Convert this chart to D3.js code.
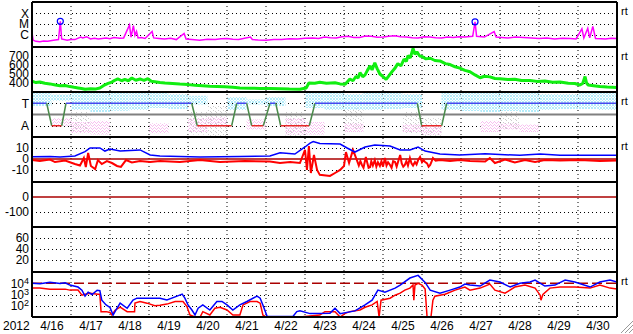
<!DOCTYPE html>
<html>
<head>
<meta charset="utf-8">
<script src="https://cdn.jsdelivr.net/npm/d3@7"></script>
<style>
  body { margin: 0; background: #fff; }
  text { font-family: "Liberation Sans", Arial, sans-serif; fill: #000; }
</style>
</head>
<body>
<svg id="chart" width="633" height="334"></svg>
<script>
// ---- data (t = days since 2012-04-16 00:00) ----
const yearLabel = "2012";

const xray = [[0,1.6e-6],[0.03,3e-7],[0.1,2.4e-7],[0.2,2.2e-7],[0.3,2.6e-7],[0.4,2.5e-7],[0.55,3e-7],[0.68,3.5e-7],
  [0.726,1.8e-5],[0.76,4e-7],[0.9,3e-7],[1.0,3.6e-7],[1.1,3.5e-7],[1.25,6e-7],[1.3,5e-7],[1.4,6.5e-7],[1.5,4e-7],
  [1.6,4.6e-7],[1.7,4e-7],[1.9,5e-7],[2.0,4.2e-7],[2.1,5.5e-7],[2.25,4.6e-7],[2.35,5e-7],
  [2.5,8e-6],[2.54,6e-7],[2.6,7e-6],[2.64,9e-7],[2.68,2e-6],[2.72,5e-7],[2.8,5.5e-7],[2.9,4.5e-7],[3.08,2e-6],
  [3.12,5e-7],[3.25,4.5e-7],[3.4,4e-7],[3.55,4.6e-7],[3.7,3.5e-7],[3.9,1.3e-6],[3.95,4e-7],[4.1,3.6e-7],
  [4.3,3e-7],[4.5,3.8e-7],[4.7,3.5e-7],[4.85,4.2e-7],[5.0,4.5e-7],[5.15,3.8e-7],[5.3,3.5e-7],[5.6,6e-7],
  [5.65,3.5e-7],[5.8,3.2e-7],[6.0,3e-7],[6.2,3.6e-7],[6.4,3.5e-7],[6.6,4.2e-7],[6.8,4e-7],[7.0,4.6e-7],
  [7.2,5e-7],[7.35,4.4e-7],[7.5,6e-7],[7.65,5.2e-7],[7.8,5e-7],[7.95,6.5e-7],[8.1,7e-7],[8.25,5.5e-7],
  [8.4,5.5e-7],[8.55,7.5e-7],[8.7,7e-7],[8.85,5.8e-7],[9.0,6e-7],[9.15,7.2e-7],[9.3,8e-7],[9.45,6.5e-7],
  [9.6,6e-7],[9.75,5.2e-7],[9.9,5e-7],[10.05,6.3e-7],[10.2,6e-7],[10.35,5.3e-7],[10.5,5e-7],[10.65,6e-7],
  [10.8,5.5e-7],[10.95,6.4e-7],[11.1,6e-7],[11.3,7e-7],[11.36,1.6e-5],[11.4,7e-7],[11.6,6e-7],[11.85,2e-6],
  [11.9,6e-7],[12.05,5.6e-7],[12.2,5e-7],[12.4,6e-7],[12.6,5.5e-7],[12.8,5e-7],[13.0,4.5e-7],[13.2,4.8e-7],
  [13.4,4e-7],[13.6,4.6e-7],[13.8,4.5e-7],[13.95,4e-7],[14.1,3.5e-6],[14.15,5e-7],[14.25,4e-6],[14.3,5e-7],
  [14.38,6e-6],[14.45,4.5e-7],[14.6,4.2e-7],[14.7,4e-7],[14.85,4.6e-7],[15,4.5e-7]];
const flares = [[0.726,1.8e-5],[11.36,1.6e-5]];
const xrayTicks = [1e-4, 1e-5, 1e-6];
const xrayLabels = ["X", "M", "C"];

const windSpeed = [[0,420],[0.1,405],[0.2,412],[0.33,398],[0.46,390],[0.6,378],[0.72,370],[0.85,372],[0.97,360],
  [1.08,352],[1.18,345],[1.27,338],[1.36,330],[1.5,336],[1.62,332],[1.74,345],[1.87,380],[1.95,395],[2.05,410],
  [2.12,430],[2.2,445],[2.3,425],[2.38,440],[2.47,425],[2.56,455],[2.66,430],[2.77,445],[2.87,430],[2.97,448],
  [3.06,420],[3.15,415],[3.28,405],[3.41,400],[3.6,395],[3.79,388],[4.0,382],[4.18,375],[4.37,370],[4.56,365],
  [4.75,362],[4.95,358],[5.15,352],[5.33,345],[5.6,342],[5.85,340],[6.1,338],[6.36,335],[6.6,332],[6.87,330],
  [7.03,345],[7.1,400],[7.25,398],[7.38,408],[7.55,398],[7.77,402],[7.9,390],[8.03,385],[8.1,420],[8.15,445],
  [8.23,425],[8.31,475],[8.36,455],[8.41,515],[8.48,470],[8.54,490],[8.6,540],[8.67,590],[8.72,545],[8.79,625],
  [8.85,560],[8.92,500],[9.0,470],[9.08,440],[9.15,480],[9.23,525],[9.3,560],[9.38,615],[9.46,590],[9.54,665],
  [9.6,640],[9.64,705],[9.7,680],[9.77,785],[9.82,720],[9.87,745],[9.94,700],[10.0,695],[10.1,668],[10.21,675],
  [10.33,650],[10.46,645],[10.6,615],[10.72,605],[10.85,580],[10.97,565],[11.1,540],[11.23,525],[11.36,490],
  [11.49,458],[11.6,475],[11.74,468],[11.87,450],[12.0,448],[12.2,438],[12.38,442],[12.55,428],[12.77,428],
  [12.95,418],[13.15,422],[13.35,408],[13.54,412],[13.75,398],[13.92,395],[14.05,378],[14.12,395],[14.18,472],
  [14.22,400],[14.26,378],[14.4,370],[14.56,360],[14.75,355],[15,350]];
const windTicks = [700, 600, 500, 400];

const sector = [[0,270],[0.377,270],[0.505,90],[0.762,90],[0.872,270],[4.095,270],[4.238,90],[5.12,90],[5.249,270],
  [5.505,270],[5.633,90],[5.931,90],[6.103,270],[6.249,270],[6.377,90],[7.11,90],[7.256,270],[9.879,270],
  [9.992,90],[10.505,90],[10.633,270],[15,270]];
const sectorTicks = [270, 90];
const sectorLabels = ["T", "A"];
// half-day angle spreads of the hourly IMF angle dots
const cyanHi = [352,340,352,352,352,352,352,344,330,null,320,300,320,null,352,352,344,352,352,344,null,352,352,352,352,352,344,344,352,352];
const cyanLo = [248,290,216,200,210,216,232,224,260,null,216,260,248,null,232,216,216,216,224,232,null,216,208,200,208,200,216,224,224,216];
const pinkHi = [null,150,120,130,null,null,110,null,150,160,null,140,null,150,120,null,110,null,null,100,90,null,null,130,110,100,null,null,null,null];
const pinkLo = [null,90,30,20,null,null,30,null,40,80,null,60,null,20,20,null,40,null,null,40,20,null,null,40,60,40,null,null,null,null];
const greyHi = [null,null,200,null,null,null,null,null,200,250,null,null,null,200,null,null,230,null,null,200,150,null,null,null,200,null,null,null,null,null];
const greyLo = [null,null,40,null,null,null,null,null,20,10,null,null,null,10,null,null,60,null,null,30,10,null,null,null,60,null,null,null,null,null];

const bt = [[0,2.0],[0.46,2.2],[0.72,1.8],[1.1,2.7],[1.36,6.6],[1.49,10],[1.74,10],[1.87,7.2],[2.0,9],[2.26,7.2],
  [2.77,8.2],[3.03,3.6],[3.28,2.7],[4.31,1.8],[5.33,2.2],[6.1,2.7],[6.36,5.7],[6.74,4.5],[7.0,10.9],[7.13,14.5],
  [7.21,15.9],[7.38,14],[7.9,13.6],[8.08,10],[8.28,6.3],[8.54,10.9],[8.79,12.7],[9.18,11.8],[9.44,8.2],[9.69,8.2],
  [9.9,10.9],[10.08,7.2],[10.46,4.5],[10.97,3.6],[11.62,4.8],[12.0,4],[12.51,3.3],[13.03,4.5],[13.54,3.3],[15,3.3]];
const bz = [[0,-1],[0.2,-1.9],[0.46,-0.5],[0.59,-2.8],[0.85,-1.4],[1.1,-4.6],[1.23,-6],[1.33,0.9],[1.38,-7.3],
  [1.44,5.4],[1.51,-6.4],[1.62,-9.2],[1.69,-1],[1.79,-4.6],[1.92,-1.9],[2.05,-3.7],[2.18,-6.4],[2.28,-7.3],
  [2.41,-1],[2.56,-3.2],[2.77,-1.9],[3.03,-2.8],[3.28,-1.9],[3.79,-2.8],[4.31,-1],[4.82,-2.8],[5.46,-1.9],
  [6.1,-2.3],[6.36,-3.7],[6.62,-2.8],[6.87,-3.7],[7.0,8.2],[7.05,-10],[7.1,11.8],[7.15,-12.8],[7.23,3.6],
  [7.31,-10],[7.38,-14.5],[7.64,-15.5],[7.77,-12.8],[7.9,-10],[8.0,-6.4],[8.05,6.3],[8.13,-3.7],[8.23,8.2],
  [8.33,-1],[8.38,-6],[8.42,-2],[8.46,-5.5],[8.5,-8],[8.53,-3],[8.56,1.8],[8.6,-4],[8.63,-8],[8.67,-7.3],
  [8.7,-2],[8.74,-6],[8.79,-1],[8.83,-7],[8.87,-3],[8.92,-6.4],[8.96,-2],[9.0,-7],[9.05,0.9],[9.09,-6],
  [9.13,-3],[9.18,-5.5],[9.22,-8],[9.26,-2],[9.31,-2.8],[9.35,-7],[9.4,-1],[9.44,3.6],[9.48,-4],[9.52,-7],
  [9.56,-5.5],[9.6,-2],[9.64,-6],[9.69,0.9],[9.73,-4],[9.77,-6],[9.82,-2.8],[9.86,-5],[9.9,-1],[9.95,1.8],
  [10.0,-3],[10.04,-1],[10.08,-2.8],[10.13,-4],[10.17,-7],[10.21,-5.5],[10.25,-2],[10.28,0.9],[10.35,-1.5],
  [10.46,-1],[10.72,-1.9],[10.97,-1],[11.23,-1.9],[11.62,-2.3],[11.74,0.9],[11.87,-3.7],[12.13,-0.5],
  [12.38,-3.2],[12.64,-1],[12.9,-2.8],[13.15,-1],[13.54,-1.4],[14.05,-1],[14.56,-1.9],[15,-1.4]];
const imfTicks = [10, 0, -10];

const dstTicks = [0, -100];
const kpTicks = [60, 40, 20];

const fluxBlue = [[0,9800],[0.205,9000],[0.46,12000],[0.72,9500],[0.85,11000],[0.97,6900],[1.18,4600],[1.28,2450],
  [1.36,710],[1.44,1620],[1.54,1000],[1.67,2400],[1.74,2200],[1.79,315],[1.9,118],[2.0,70],[2.08,15],[2.18,60],
  [2.26,170],[2.44,60],[2.59,320],[2.69,470],[2.95,470],[3.28,470],[3.46,320],[3.72,710],[3.85,1070],[3.92,470],
  [4.0,118],[4.1,42],[4.18,15],[4.26,60],[4.38,118],[4.56,42],[4.74,240],[4.87,240],[5.0,118],[5.15,42],
  [5.33,118],[5.51,240],[5.77,710],[5.85,470],[5.92,118],[6.03,11],[6.36,11],[6.69,11],[6.79,30],[6.87,35],
  [7.13,20],[7.64,22],[7.77,60],[7.9,20],[8.28,35],[8.54,118],[8.72,315],[8.87,2450],[9.05,1620],[9.31,3700],
  [9.44,6900],[9.69,29000],[9.9,50000],[10.08,12000],[10.21,2450],[10.46,1320],[10.72,2450],[10.97,4600],
  [11.1,8500],[11.23,6900],[11.49,5600],[11.74,19300],[12.0,12800],[12.26,4600],[12.51,9800],[12.77,12800],
  [12.9,19300],[13.15,5600],[13.41,6900],[13.67,19300],[13.92,12800],[14.31,4600],[14.56,12800],[14.82,19300],
  [15,12800]];
const fluxRed = [[0,3700],[0.2,3700],[0.46,3000],[0.85,3000],[0.97,2450],[1.18,2450],[1.28,870],[1.36,1070],
  [1.49,1320],[1.69,1070],[1.74,1070],[1.77,30],[1.9,30],[2.0,25],[2.05,15],[2.13,40],[2.26,74],[2.44,30],
  [2.59,30],[2.63,30],[2.64,170],[2.77,240],[2.95,170],[3.15,100],[3.28,110],[3.46,140],[3.67,240],[3.87,240],
  [3.97,90],[4.05,15],[4.18,10],[4.31,10],[4.38,30],[4.56,15],[4.69,60],[4.82,74],[5.0,42],[5.15,15],[5.33,15],
  [5.41,118],[5.59,240],[5.77,240],[5.85,170],[5.92,15],[6.0,10],[6.87,10],[7.38,15],[7.51,30],[7.77,30],
  [7.9,10],[8.03,21],[8.15,30],[8.41,42],[8.54,74],[8.72,118],[8.85,240],[8.9,10],[8.95,315],[9.18,470],
  [9.31,870],[9.44,1320],[9.56,2450],[9.69,3700],[9.77,6900],[9.79,315],[9.82,6900],[9.9,9800],[10.0,6900],
  [10.08,3000],[10.13,10],[10.23,10],[10.28,315],[10.33,710],[10.59,1070],[10.85,2450],[11.1,4600],[11.23,2450],
  [11.49,3700],[11.74,8500],[11.87,2450],[12.13,1320],[12.38,4600],[12.64,6900],[12.9,3700],[13.03,870],
  [13.05,315],[13.1,1000],[13.28,3700],[13.54,4600],[13.92,4600],[14.31,3700],[14.56,6900],[14.82,3700],[15,3000]];
const fluxTicks = [1e4, 1e3, 1e2];
const fluxExp = ["4", "3", "2"];

// ---- layout ----
const svg = d3.select("#chart");
const L = 32, R = 617;
const tops = [2, 47, 92, 137, 182, 227, 272];
const H = 45, B = 317;
const t0 = new Date(2012, 3, 16), t1 = new Date(2012, 4, 1);
const at = t => new Date(t0.getTime() + t * 864e5);
const x = d3.scaleTime().domain([t0, t1]).range([L, R]);

const yX = d3.scaleLog().domain([7.08e-8, 1.15e-3]).range([47, 2]).clamp(true);
const yV = d3.scaleLinear().domain([300, 800]).range([92, 47]);
const yS = d3.scaleLinear().domain([0, 360]).range([137, 92]);
const yB = d3.scaleLinear().domain([-21, 20]).range([182, 137]);
const yD = d3.scaleLinear().domain([-200, 100]).range([227, 182]);
const yK = d3.scaleLinear().domain([0, 80]).range([271, 227]);
const yP = d3.scaleLog().domain([10, 1e5]).range([317, 272]).clamp(true);

const defs = svg.append("defs");
tops.forEach((tp, i) => {
  defs.append("clipPath").attr("id", "c" + i).append("rect")
    .attr("x", L).attr("y", tp).attr("width", R - L).attr("height", H);
});
function dots(id, w, h, pts, color) {
  const p = defs.append("pattern").attr("id", id).attr("patternUnits", "userSpaceOnUse")
    .attr("width", w).attr("height", h);
  pts.forEach(d => p.append("rect").attr("x", d[0]).attr("y", d[1]).attr("width", 1).attr("height", 1).attr("fill", color));
}
dots("pc", 3, 3, [[0,0],[1,0],[2,1],[0,2],[1,2]], "#b4ecfa");
dots("pp", 4, 3, [[0,0],[2,1],[1,2],[3,2]], "#f8bff0");
dots("pg", 5, 4, [[1,0],[3,2],[0,3]], "#cccccc");

// dotted grid
const grid = svg.append("g").attr("stroke", "#000").attr("stroke-width", 1).attr("stroke-dasharray", "1,3");
grid.selectAll("line.v").data(d3.timeDay.range(d3.timeDay.offset(t0, 1), t1)).join("line")
  .attr("x1", d => x(d)).attr("x2", d => x(d)).attr("y1", 2).attr("y2", B);
function hgrid(scale, vals) {
  grid.append("g").selectAll("line").data(vals).join("line")
    .attr("x1", L).attr("x2", R).attr("y1", d => Math.round(scale(d)) + 0.5).attr("y2", d => Math.round(scale(d)) + 0.5);
}
hgrid(yX, xrayTicks); hgrid(yV, windTicks); hgrid(yS, [270, 90]); hgrid(yB, [10, -10]);
hgrid(yD, [-100]); hgrid(yK, kpTicks); hgrid(yP, [1e3, 1e2]);

const line = (sy) => d3.line().x(d => x(at(d[0]))).y(d => sy(d[1]));
const clip = i => svg.append("g").attr("clip-path", `url(#c${i})`);

// panel 1: x-ray
const g1 = clip(0);
g1.append("path").datum(xray).attr("d", line(yX)).attr("fill", "none").attr("stroke", "#ff00ff").attr("stroke-width", 1.5);
g1.selectAll("circle").data(flares).join("circle")
  .attr("cx", d => x(at(d[0]))).attr("cy", d => yX(d[1])).attr("r", 3)
  .attr("fill", "none").attr("stroke", "#0000ff").attr("stroke-width", 1.2);

// panel 2: wind speed
clip(1).append("path").datum(windSpeed).attr("d", line(yV)).attr("fill", "none")
  .attr("stroke", "#11ee11").attr("stroke-width", 3).attr("stroke-linejoin", "bevel");

// panel 3: sector
const g3 = clip(2);
function band(hi, lo, fill) {
  const d = hi.map((h, k) => ({k, h, l: lo[k]})).filter(e => e.h !== null);
  g3.append("g").selectAll("rect").data(d).join("rect")
    .attr("x", e => x(at(e.k / 2))).attr("width", e => x(at((e.k + 1) / 2)) - x(at(e.k / 2)))
    .attr("y", e => yS(e.h)).attr("height", e => yS(e.l) - yS(e.h)).attr("fill", fill);
}
band(greyHi, greyLo, "url(#pg)");
band(cyanHi, cyanLo, "url(#pc)");
band(pinkHi, pinkLo, "url(#pp)");
g3.append("line").attr("x1", L).attr("x2", R).attr("y1", yS(180)).attr("y2", yS(180))
  .attr("stroke", "#808080").attr("stroke-width", 2);
const segs = d3.pairs(sector);
g3.selectAll("line.s").data(segs).join("line")
  .attr("x1", d => x(at(d[0][0]))).attr("y1", d => yS(d[0][1]))
  .attr("x2", d => x(at(d[1][0]))).attr("y2", d => yS(d[1][1]))
  .attr("stroke", d => d[0][1] !== d[1][1] ? "#4a8a4a" : (d[0][1] === 270 ? "#4848ee" : "#e82828"))
  .attr("stroke-width", 1.5);

// panel 4: IMF
const g4 = clip(3);
g4.append("line").attr("x1", L).attr("x2", R).attr("y1", yB(0)).attr("y2", yB(0)).attr("stroke", "#aa0000").attr("stroke-width", 1.5);
g4.append("path").datum(bz).attr("d", line(yB)).attr("fill", "none").attr("stroke", "#ff0000").attr("stroke-width", 2);
g4.append("path").datum(bt).attr("d", line(yB)).attr("fill", "none").attr("stroke", "#0000ff").attr("stroke-width", 1.5);

// panel 5: zero line
clip(4).append("line").attr("x1", L).attr("x2", R).attr("y1", yD(0)).attr("y2", yD(0)).attr("stroke", "#aa0000").attr("stroke-width", 1.5);

// panel 7: particle flux
const g7 = clip(6);
g7.append("line").attr("x1", L).attr("x2", R).attr("y1", yP(1e4)).attr("y2", yP(1e4))
  .attr("stroke", "#aa0000").attr("stroke-width", 1.5).attr("stroke-dasharray", "10,4");
g7.append("path").datum(fluxRed).attr("d", line(yP)).attr("fill", "none").attr("stroke", "#ff0000").attr("stroke-width", 1.5);
g7.append("path").datum(fluxBlue).attr("d", line(yP)).attr("fill", "none").attr("stroke", "#0000ff").attr("stroke-width", 1.5);

// frames
const frame = svg.append("g").attr("stroke", "#000").attr("stroke-width", 2);
frame.selectAll("line.h").data(tops.concat([B])).join("line").attr("x1", L).attr("x2", R).attr("y1", d => d).attr("y2", d => d);
frame.append("line").attr("x1", L).attr("x2", L).attr("y1", 2).attr("y2", B);
frame.append("line").attr("x1", R).attr("x2", R).attr("y1", 2).attr("y2", B);

// y axes
function yaxis(scale, vals, labels) {
  const a = svg.append("g").attr("transform", `translate(${L - 2},0)`)
    .call(d3.axisLeft(scale).tickValues(vals).tickSize(0).tickPadding(1)
      .tickFormat((d, i) => labels ? labels[i] : d));
  a.select(".domain").remove();
  a.selectAll("text").attr("font-size", 12).attr("font-family", "DejaVu Sans, sans-serif");
  return a;
}
yaxis(yX, xrayTicks, xrayLabels);
yaxis(yV, windTicks);
yaxis(yS, sectorTicks, sectorLabels);
yaxis(yB, imfTicks);
yaxis(yD, dstTicks);
yaxis(yK, kpTicks);
const pa = yaxis(yP, fluxTicks, fluxTicks.map(() => ""));
pa.selectAll("text").each(function (d, i) {
  const t = d3.select(this);
  t.append("tspan").text("10");
  t.append("tspan").attr("dy", "-0.45em").attr("font-size", 9).text(fluxExp[i]);
});

// real-time markers
svg.selectAll("text.rt").data([0, 1, 2, 3, 6]).join("text")
  .attr("x", R + 4).attr("y", i => tops[i] + 13).attr("font-size", 11).text("rt");

// x axis
const xa = svg.append("g").attr("transform", `translate(0,${B})`)
  .call(d3.axisBottom(x).tickValues(d3.timeDay.range(t0, t1).map(d => d3.timeHour.offset(d, 12)))
    .tickSize(0).tickPadding(4).tickFormat(d3.timeFormat("%-m/%-d")));
xa.select(".domain").remove();
xa.selectAll("text").attr("font-size", 12);
svg.append("text").attr("x", 3).attr("y", 330).attr("font-size", 12).text(yearLabel);

// resize grip
svg.append("g").attr("stroke", "#999").attr("stroke-width", 1)
  .selectAll("line").data([0, 4, 8]).join("line")
  .attr("x1", 633).attr("y1", d => 321 + d).attr("x2", d => 621 + d).attr("y2", 333);
</script>
</body>
</html>
